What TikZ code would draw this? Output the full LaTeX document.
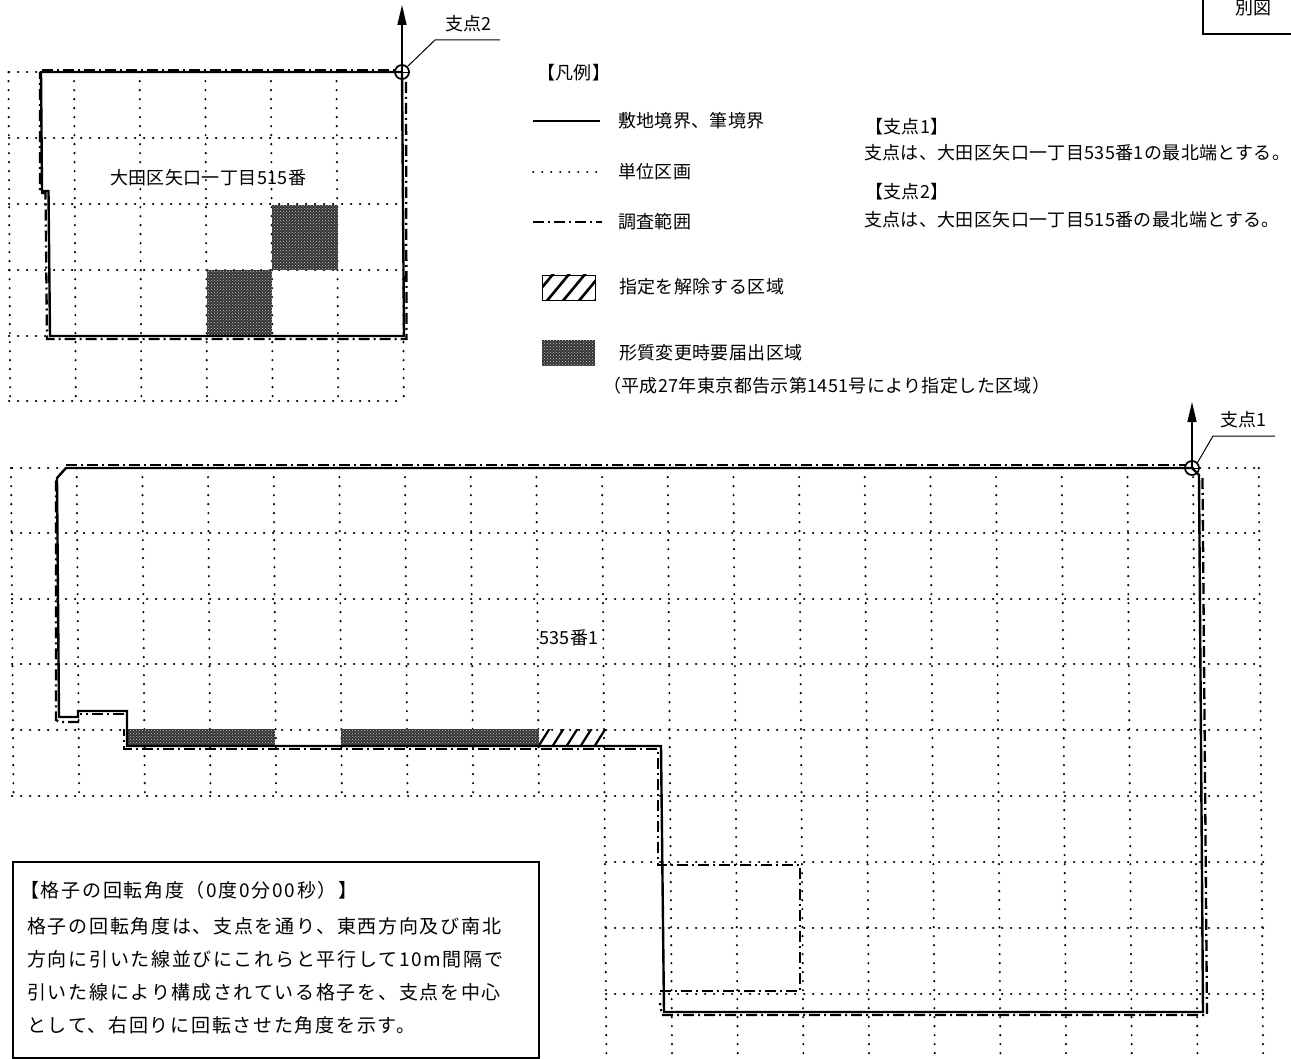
\documentclass[tikz,border=0pt]{standalone}
\usepackage{fontspec}
\usetikzlibrary{arrows.meta,patterns}
\newfontfamily\jpa[LetterSpace=2]{Noto Sans CJK JP}
\newfontfamily\jpb[LetterSpace=9]{Noto Sans CJK JP}
\definecolor{darkzone}{gray}{0.2}
\tikzset{
  gridline/.style={line width=2.1pt,line cap=round,dash pattern=on 0.3pt off 8.7pt,black},
  boundary/.style={line width=2.4pt,black,line join=miter},
  surveyline/.style={line width=2.3pt,black,dash pattern=on 11pt off 4pt on 2pt off 4pt},
  zone/.style={fill=darkzone,draw=none},
  speck/.style={pattern=crosshatch dots,pattern color=white!80!black},
  txt/.style={anchor=west,inner sep=0pt,font=\jpa\fontsize{18}{20}\selectfont},
  boxtxt/.style={anchor=west,inner sep=0pt,font=\jpb\fontsize{19}{20}\selectfont},
  pivot/.style={circle,draw=black,line width=1.7pt,minimum size=14pt,inner sep=0pt},
  north/.style={line width=1.3pt,-{Triangle[length=20pt,width=9pt]}},
  leader/.style={line width=1pt},
  frameline/.style={line width=1.5pt}
}
\begin{document}
\begin{tikzpicture}[x=1pt,y=-1pt]
\useasboundingbox (0,0) rectangle (1291,1059);
% --- upper grid
\foreach \k in {0,...,6}{
  \draw[gridline] ({8.5+65.6*\k},72) -- ({10.2+65.6*\k},401);
}
\foreach \r in {72,138,204,270,336,401}{
  \draw[gridline] (9,\r) -- (404,\r);
}
% --- lower grid
\foreach \k in {0,...,8}{
  \draw[gridline] ({11+65.67*\k},468) -- ({13.5+65.67*\k},796);
}
\foreach \k in {9,...,19}{
  \draw[gridline] ({11+65.67*\k},468) -- ({15.4+65.67*\k},1059);
}
\foreach \r in {468,533,599,664,730,796}{
  \draw[gridline] (12,\r) -- (1262,\r);
}
\foreach \r in {862,928,994}{
  \draw[gridline] (606,\r) -- (1264,\r);
}
% --- zones upper
\fill[zone] (272,205) rectangle (337.5,270);
\fill[zone] (206.5,270) rectangle (272,335);
\fill[speck] (272,205) rectangle (337.5,270);
\fill[speck] (206.5,270) rectangle (272,335);
% --- zones lower
\fill[zone] (126,729) rectangle (275,746);
\fill[zone] (340.5,729) rectangle (538.5,746);
\fill[speck] (126,729) rectangle (275,746);
\fill[speck] (340.5,729) rectangle (538.5,746);
\begin{scope}
\clip (538.5,729) rectangle (606,746);
\foreach \h in {538,552,566,580,594}{
  \draw[line width=2.2pt] (\h,747) -- (\h+12,728);
}
\end{scope}
% --- boundary upper
\draw[boundary] (41,72) -- (402,72) -- (404,336) -- (50,336) -- (48.5,191) -- (42,191) -- cycle;
% --- survey upper
\draw[surveyline] (42,70) -- (396,70);
\draw[surveyline] (406,82) -- (406.5,339) -- (47,339) -- (45.5,193) -- (40,193) -- (40,72);
% --- boundary lower
\draw[boundary] (66,468) -- (1192,468) -- (1199,475) -- (1203,1012) -- (664,1012) -- (661,746) -- (127,746) -- (127,711) -- (78,711) -- (78,717) -- (59,717) -- (57,478) -- cycle;
% --- survey lower
\draw[surveyline] (66,465) -- (1185,465);
\draw[surveyline] (1202.5,478) -- (1207,1015) -- (662,1015) -- (660,1003);
\draw[surveyline] (660,991) -- (800,991) -- (800,865) -- (658,865) -- (658,749) -- (124,749) -- (124,729);
\draw[surveyline] (124,714) -- (80,714) ;
\draw[surveyline] (79,722) -- (60,722) -- (56,720) -- (56,480);
% --- pivots
\node[pivot] (p2) at (402,72) {};
\node[pivot] (p1) at (1192,468) {};
\coordinate (n2) at (402,5);
\coordinate (n1) at (1192,402);
\draw[north] (p2.center) -- (n2);
\draw[north] (p1.center) -- (n1);
\draw[line width=0.9pt] (p2.west) -- (p2.east);
\draw[line width=0.9pt] (p1.west) -- (p1.east);
\coordinate (l2a) at (435,40);
\coordinate (l2b) at (500,40);
\coordinate (l1a) at (1213,436);
\coordinate (l1b) at (1275,436);
\draw[leader] (p2.north east) -- (l2a) -- (l2b);
\draw[leader] (p1.north east) -- (l1a) -- (l1b);
\node[txt] (t2) at (445,24) {支点2};
\node[txt] (t1) at (1220,420) {支点1};
% --- corner box
\draw[frameline] (1203,0) -- (1203,34) -- (1291,34);
\node[txt] (bz) at (1235,8) {別図};
% --- site labels
\node[txt] (s515) at (110,178) {大田区矢口一丁目515番};
\node[txt] (s535) at (539,638) {535番1};
% --- legend
\node[txt] (lg) at (537,73) {【凡例】};
\coordinate (a1) at (533,121); \coordinate (b1) at (600,121);
\coordinate (a2) at (533,172); \coordinate (b2) at (598,172);
\coordinate (a3) at (533,222); \coordinate (b3) at (602,222);
\draw[line width=2.4pt] (a1) -- (b1);
\draw[line width=2pt,line cap=round,dash pattern=on 0.3pt off 8.7pt] (a2) -- (b2);
\draw[line width=2.4pt,dash pattern=on 11pt off 4pt on 2pt off 4pt] (a3) -- (b3);
\node[txt] at (618,121) {敷地境界、筆境界};
\node[txt] at (618,172) {単位区画};
\node[txt] at (618,222) {調査範囲};
\begin{scope}
\clip (542,275) rectangle (595,300);
\foreach \h in {530,546,562,578,594}{
  \draw[line width=2.6pt] (\h,302) -- (\h+24,273);
}
\end{scope}
\draw[line width=0.8pt] (542,275) rectangle (595,300);
\fill[zone] (542,340) rectangle (595,366);
\fill[speck] (542,340) rectangle (595,366);
\node[txt] at (619,287) {指定を解除する区域};
\node[txt] at (619,353) {形質変更時要届出区域};
\node[txt] at (603,386) {（平成27年東京都告示第1451号により指定した区域）};
% --- pivot text
\node[txt] at (865,127) {【支点1】};
\node[txt] at (864,153) {支点は、大田区矢口一丁目535番1の最北端とする。};
\node[txt] at (865,192) {【支点2】};
\node[txt] at (864,220) {支点は、大田区矢口一丁目515番の最北端とする。};
% --- rotation box
\draw[frameline] (13,862) rectangle (539,1058);
\node[boxtxt] at (20,890) {【格子の回転角度（0度0分00秒）】};
\node[boxtxt] at (27,926) {格子の回転角度は、支点を通り、東西方向及び南北};
\node[boxtxt] at (27,959) {方向に引いた線並びにこれらと平行して10m間隔で};
\node[boxtxt] at (27,992) {引いた線により構成されている格子を、支点を中心};
\node[boxtxt] at (27,1025) {として、右回りに回転させた角度を示す。};
\end{tikzpicture}
\end{document}
